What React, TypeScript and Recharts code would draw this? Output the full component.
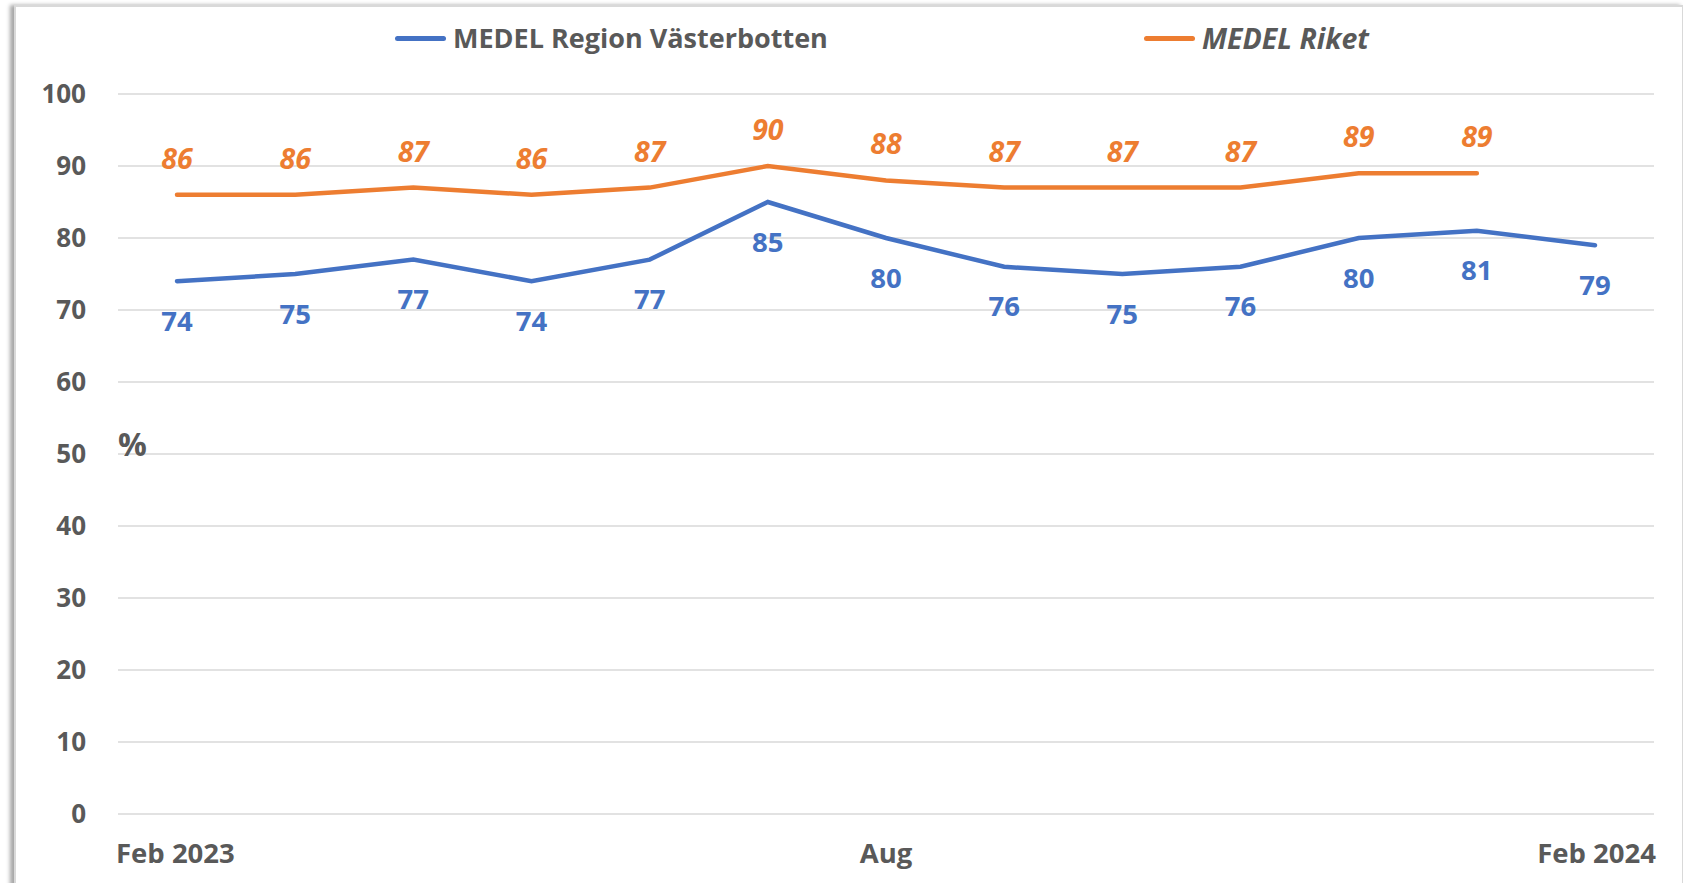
import { CartesianGrid, Label, LabelList, Legend, Line, LineChart, XAxis, YAxis } from "recharts";

// Monthly averages, Feb 2023 – Feb 2024 (percent)
const months = [
  "Feb 2023", "Mar", "Apr", "Maj", "Jun", "Jul", "Aug",
  "Sep", "Okt", "Nov", "Dec", "Jan", "Feb 2024",
];
const vasterbotten = [74, 75, 77, 74, 77, 85, 80, 76, 75, 76, 80, 81, 79];
const riket: (number | null)[] = [86, 86, 87, 86, 87, 90, 88, 87, 87, 87, 89, 89, null];
const shownTicks = ["Feb 2023", "Aug", "Feb 2024"];
const yTicks = [0, 10, 20, 30, 40, 50, 60, 70, 80, 90, 100];

const BLUE = "#4472C4";
const ORANGE = "#ED7D31";
const GREY = "#595959";
const FONT = "'Open Sans', sans-serif";

const data = months.map((m, i) => ({ month: m, region: vasterbotten[i], riket: riket[i] }));

function XTick(props: any) {
  const { x, y, payload } = props;
  const v = payload.value as string;
  let anchor: "start" | "middle" | "end" = "middle";
  let tx = x;
  if (v === months[0]) {
    anchor = "start";
    tx = x - 61;
  } else if (v === months[months.length - 1]) {
    anchor = "end";
    tx = x + 61;
  }
  return (
    <text x={tx} y={y + 41} textAnchor={anchor} fill={GREY} fontFamily={FONT} fontWeight={700} fontSize={27.5}>
      {v}
    </text>
  );
}

function RegionLabel(props: any) {
  const { x, y, value } = props;
  if (value == null) return null;
  return (
    <text x={x} y={y + 39} textAnchor="middle" dominantBaseline="central" fill={BLUE} fontFamily={FONT} fontWeight={700} fontSize={27.5}>
      {value}
    </text>
  );
}

function RiketLabel(props: any) {
  const { x, y, value } = props;
  if (value == null) return null;
  return (
    <text x={x} y={y - 37} textAnchor="middle" dominantBaseline="central" fill={ORANGE} fontFamily={FONT} fontWeight={700} fontStyle="italic" fontSize={28.5}>
      {value}
    </text>
  );
}

function LegendBox() {
  const item = (left: number, color: string, text: string, italic: boolean, size: number) => (
    <div style={{ position: "absolute", left, top: 18, display: "flex", alignItems: "center" }}>
      <div style={{ width: 51, height: 5, borderRadius: 3, background: color, marginRight: 7 }} />
      <span style={{ fontFamily: FONT, fontWeight: 700, fontSize: size, color: GREY, fontStyle: italic ? "italic" : "normal", lineHeight: "40px" }}>
        {text}
      </span>
    </div>
  );
  return (
    <div style={{ position: "relative", width: 1683, height: 60 }}>
      {item(395, BLUE, "MEDEL Region Västerbotten", false, 27)}
      {item(1144, ORANGE, "MEDEL Riket", true, 28.5)}
    </div>
  );
}

export default function App() {
  return (
    <div style={{ position: "absolute", left: 0, top: 0, width: 1683, height: 883, overflow: "hidden", background: "#fff" }}>
      <div
        style={{
          position: "absolute",
          left: 14,
          top: 5,
          width: 1666,
          height: 920,
          border: "2px solid #D9D9D9",
          boxShadow: "-4px 0 4px rgba(0,0,0,0.35)",
          background: "#fff",
        }}
      />
      <div style={{ position: "absolute", left: 0, top: 0 }}>
        <LineChart width={1683} height={883} data={data} margin={{ top: 34, right: 29, bottom: 0, left: 0 }}>
          <CartesianGrid vertical={false} stroke="#D9D9D9" strokeWidth={1.5} />
          <XAxis
            dataKey="month"
            ticks={shownTicks}
            interval={0}
            axisLine={false}
            tickLine={false}
            height={69}
            padding={{ left: 59, right: 59 }}
            tick={<XTick />}
          />
          <YAxis
            domain={[0, 100]}
            ticks={yTicks}
            axisLine={false}
            tickLine={false}
            tickSize={0}
            width={118}
            tickMargin={32}
            tick={{ fill: GREY, fontFamily: FONT, fontWeight: 700, fontSize: 26 }}
          >
            <Label value="%" position="right" offset={0} dy={-9} fill={GREY} fontFamily={FONT} fontWeight={700} fontSize={32} />
          </YAxis>
          <Legend verticalAlign="top" content={<LegendBox />} wrapperStyle={{ top: 0, left: 0, width: 1683 }} />
          <Line
            type="linear"
            dataKey="region"
            name="MEDEL Region Västerbotten"
            stroke={BLUE}
            strokeWidth={4.5}
            strokeLinecap="round"
            dot={false}
            isAnimationActive={false}
          >
            <LabelList dataKey="region" content={<RegionLabel />} />
          </Line>
          <Line
            type="linear"
            dataKey="riket"
            name="MEDEL Riket"
            stroke={ORANGE}
            strokeWidth={4.5}
            strokeLinecap="round"
            dot={false}
            isAnimationActive={false}
          >
            <LabelList dataKey="riket" content={<RiketLabel />} />
          </Line>
        </LineChart>
      </div>
    </div>
  );
}
